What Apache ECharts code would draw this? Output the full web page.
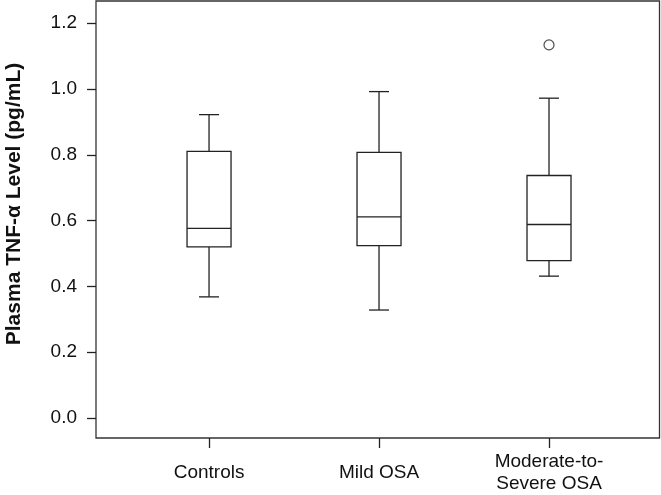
<!DOCTYPE html>
<html>
<head>
<meta charset="utf-8">
<script src="https://cdn.jsdelivr.net/npm/echarts@6/dist/echarts.min.js"></script>
<style>
html,body{margin:0;padding:0;background:#fff;}
#c{width:661px;height:495px;}
</style>
</head>
<body>
<div id="c"></div>
<script>
// ---- data ----
const categories = ['Controls', 'Mild OSA', 'Moderate-to-\nSevere OSA'];
const whiskerMin = [0.368, 0.328, 0.431];
const quartile1  = [0.520, 0.524, 0.478];
const medians    = [0.576, 0.611, 0.588];
const quartile3  = [0.810, 0.807, 0.737];
const whiskerMax = [0.922, 0.992, 0.972];
const outlierGroup = [3];
const outlierValue = [1.134];
const yTicks = [0, 0.2, 0.4, 0.6, 0.8, 1.0, 1.2];
const xTicks = [1, 2, 3];

const boxData = categories.map((c, i) => [i + 1, whiskerMin[i], quartile1[i], medians[i], quartile3[i], whiskerMax[i]]);
const outData = outlierGroup.map((g, i) => [g, outlierValue[i]]);

const INK = '#222';
const LW = 1.3;
const tickFont = '"Liberation Sans Narrow", "Arial Narrow", "Liberation Sans", Arial, sans-serif';

const chart = echarts.init(document.getElementById('c'), null, {renderer: 'canvas'});
chart.setOption({
  animation: false,
  backgroundColor: '#fff',
  grid: {
    left: 96, right: 1.5, top: 1, bottom: 54.3,
    show: true, borderColor: '#333', borderWidth: LW, backgroundColor: 'transparent'
  },
  xAxis: {
    type: 'value',
    min: 0.335, max: 3.65,
    splitLine: {show: false},
    axisLine: {show: false, onZero: false},
    axisTick: {show: true, customValues: xTicks, length: 10, lineStyle: {color: INK, width: LW}},
    axisLabel: {
      show: true, customValues: xTicks,
      formatter: v => categories[Math.round(v) - 1] || '',
      fontFamily: tickFont, fontSize: 19, color: '#111',
      lineHeight: 22, margin: 35, verticalAlign: 'middle'
    }
  },
  yAxis: {
    type: 'value',
    min: -0.061, max: 1.2674,
    splitLine: {show: false},
    axisLine: {show: false, onZero: false},
    axisTick: {show: true, customValues: yTicks, length: 9, lineStyle: {color: INK, width: LW}},
    axisLabel: {
      show: true, customValues: yTicks,
      formatter: v => v.toFixed(1),
      fontFamily: tickFont, fontSize: 19, color: '#111', margin: 19
    }
  },
  graphic: [{
    type: 'text',
    x: 14, y: 204,
    rotation: Math.PI / 2,
    style: {
      text: 'Plasma TNF-α Level (pg/mL)',
      fontFamily: '"Liberation Sans", Arial, sans-serif',
      fontWeight: 'bold', fontSize: 21, fill: '#111',
      align: 'center', verticalAlign: 'middle'
    }
  }],
  series: [{
    type: 'custom',
    data: boxData,
    encode: {x: 0, y: [1, 2, 3, 4, 5]},
    renderItem: function (params, api) {
      const xv = api.value(0);
      const c = k => api.coord([xv, api.value(k)]);
      const pMin = c(1), pQ1 = c(2), pMed = c(3), pQ3 = c(4), pMax = c(5);
      const cx = pMin[0];
      const bw = 22, cw = 10;
      const ls = {stroke: INK, lineWidth: LW};
      return {
        type: 'group',
        children: [
          {type: 'line', shape: {x1: cx, y1: pQ3[1], x2: cx, y2: pMax[1]}, style: ls},
          {type: 'line', shape: {x1: cx, y1: pQ1[1], x2: cx, y2: pMin[1]}, style: ls},
          {type: 'line', shape: {x1: cx - cw, y1: pMax[1], x2: cx + cw, y2: pMax[1]}, style: ls},
          {type: 'line', shape: {x1: cx - cw, y1: pMin[1], x2: cx + cw, y2: pMin[1]}, style: ls},
          {type: 'rect', shape: {x: cx - bw, y: pQ3[1], width: 2 * bw, height: pQ1[1] - pQ3[1]},
           style: {stroke: INK, lineWidth: LW, fill: '#fff'}},
          {type: 'line', shape: {x1: cx - bw, y1: pMed[1], x2: cx + bw, y2: pMed[1]}, style: ls}
        ]
      };
    }
  }, {
    type: 'scatter',
    data: outData,
    symbol: 'circle',
    symbolSize: 10,
    itemStyle: {color: '#fff', borderColor: INK, borderWidth: 1.2}
  }]
});
</script>
</body>
</html>
